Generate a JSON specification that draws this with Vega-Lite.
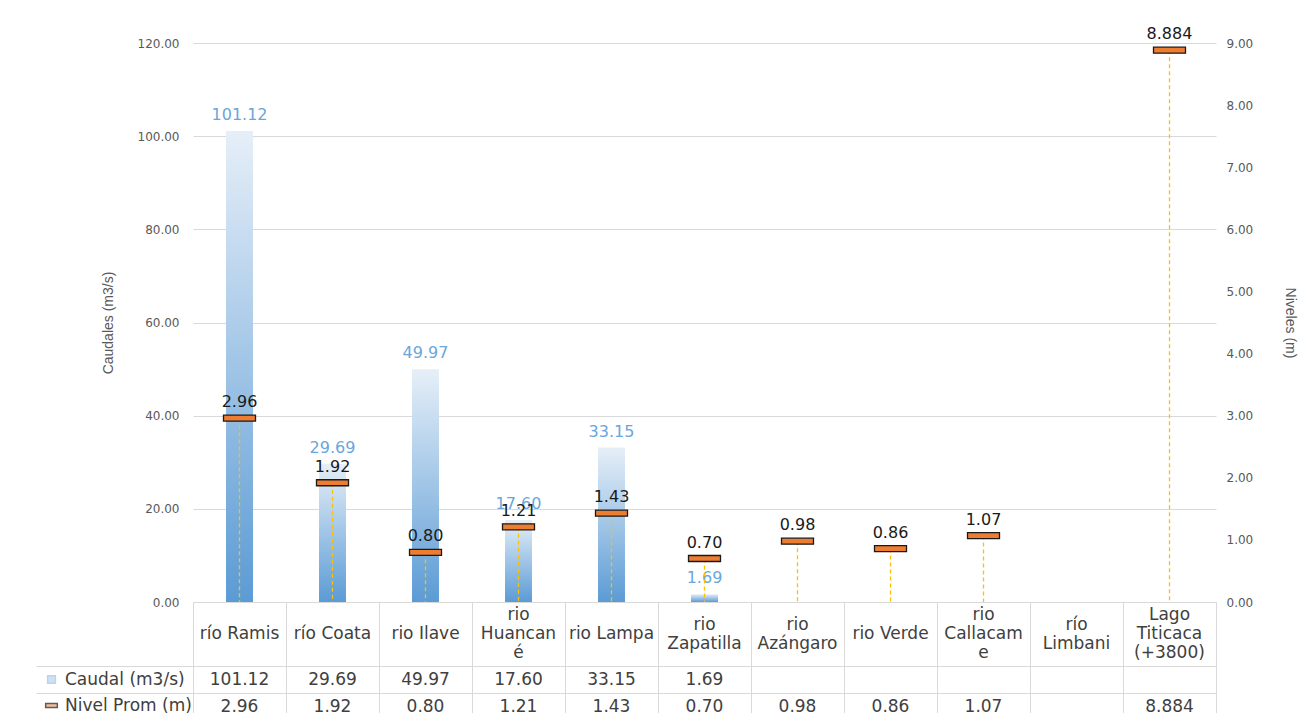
{
  "$schema": "https://vega.github.io/schema/vega-lite/v6.json",
  "padding": {"left": 35, "top": 26, "right": 5, "bottom": 0},
  "background": "white",
  "spacing": 0,
  "bounds": "flush",
  "config": {"view": {"stroke": null}, "font": "DejaVu Sans"},
  "datasets": {
    "rows": [
      {"cat": "río Ramis", "header": "río Ramis", "caudal": 101.12, "nivel": 2.96, "caudal_txt": "101.12", "nivel_txt": "2.96"},
      {"cat": "río Coata", "header": "río Coata", "caudal": 29.69, "nivel": 1.92, "caudal_txt": "29.69", "nivel_txt": "1.92"},
      {"cat": "rio Ilave", "header": "rio Ilave", "caudal": 49.97, "nivel": 0.80, "caudal_txt": "49.97", "nivel_txt": "0.80"},
      {"cat": "rio Huancané", "header": "rio|Huancan|é", "caudal": 17.60, "nivel": 1.21, "caudal_txt": "17.60", "nivel_txt": "1.21"},
      {"cat": "rio Lampa", "header": "rio Lampa", "caudal": 33.15, "nivel": 1.43, "caudal_txt": "33.15", "nivel_txt": "1.43"},
      {"cat": "rio Zapatilla", "header": "rio|Zapatilla", "caudal": 1.69, "nivel": 0.70, "caudal_txt": "1.69", "nivel_txt": "0.70"},
      {"cat": "rio Azángaro", "header": "rio|Azángaro", "caudal": null, "nivel": 0.98, "caudal_txt": null, "nivel_txt": "0.98"},
      {"cat": "rio Verde", "header": "rio Verde", "caudal": null, "nivel": 0.86, "caudal_txt": null, "nivel_txt": "0.86"},
      {"cat": "rio Callacame", "header": "rio|Callacam|e", "caudal": null, "nivel": 1.07, "caudal_txt": null, "nivel_txt": "1.07"},
      {"cat": "río Limbani", "header": "río|Limbani", "caudal": null, "nivel": null, "caudal_txt": null, "nivel_txt": null},
      {"cat": "Lago Titicaca (+3800)", "header": "Lago|Titicaca|(+3800)", "caudal": null, "nivel": 8.884, "caudal_txt": null, "nivel_txt": "8.884"}
    ]
  },
  "vconcat": [
    {
      "width": 1023,
      "height": 559,
      "data": {"name": "rows"},
      "encoding": {
        "x": {"field": "cat", "type": "nominal", "sort": null, "axis": null,
              "scale": {"type": "band", "paddingInner": 0.71, "paddingOuter": 0.355,
                        "domain": ["río Ramis", "río Coata", "rio Ilave", "rio Huancané", "rio Lampa", "rio Zapatilla", "rio Azángaro", "rio Verde", "rio Callacame", "río Limbani", "Lago Titicaca (+3800)"]}}
      },
      "layer": [
        {
          "encoding": {
            "y": {"field": "caudal", "type": "quantitative", "scale": {"domain": [0, 120]},
                  "axis": {"title": "Caudales (m3/s)", "format": ".2f", "values": [0, 20, 40, 60, 80, 100, 120],
                           "grid": true, "gridColor": "#d9d9d9", "domain": false, "ticks": false,
                           "labelPadding": 14, "labelFont": "DejaVu Sans", "labelFontSize": 12, "labelColor": "#595959",
                           "titleFont": "Liberation Sans", "titleFontSize": 14, "titleFontWeight": "normal",
                           "titleColor": "#595959", "titlePadding": 22}}
          },
          "layer": [
            {"mark": {"type": "bar",
                      "color": {"gradient": "linear", "x1": 0, "y1": 0, "x2": 0, "y2": 1,
                                "stops": [{"offset": 0, "color": "#e6eff8"}, {"offset": 1, "color": "#5b9bd5"}]}}},
            {"mark": {"type": "text", "dy": -16, "color": "#6aa6dc", "fontSize": 16, "font": "DejaVu Sans"},
             "encoding": {"text": {"field": "caudal", "type": "quantitative", "format": ".2f"}}}
          ]
        },
        {
          "encoding": {
            "y": {"field": "nivel", "type": "quantitative", "scale": {"domain": [0, 9]},
                  "axis": {"orient": "right", "title": "Niveles (m)", "format": ".2f", "values": [0, 1, 2, 3, 4, 5, 6, 7, 8, 9],
                           "grid": false, "domain": false, "ticks": false,
                           "labelPadding": 10, "labelFont": "DejaVu Sans", "labelFontSize": 12, "labelColor": "#595959",
                           "titleFont": "Liberation Sans", "titleFontSize": 14, "titleFontWeight": "normal",
                           "titleColor": "#595959", "titlePadding": 30}}
          },
          "layer": [
            {"mark": {"type": "rule", "color": "#ffc000", "strokeDash": [4, 3], "strokeWidth": 1.3},
             "encoding": {"y2": {"datum": 0}}},
            {"mark": {"type": "tick", "orient": "horizontal", "size": 32, "thickness": 6, "filled": true,
                      "fill": "#ed7d31", "stroke": "#1a1a1a", "strokeWidth": 1.3, "opacity": 1}},
            {"mark": {"type": "text", "dy": -16, "color": "#1a1a1a", "fontSize": 16, "font": "DejaVu Sans"},
             "encoding": {"text": {"field": "nivel_txt", "type": "nominal"}}}
          ]
        }
      ],
      "resolve": {"scale": {"y": "independent"}}
    },
    {
      "width": 1023,
      "height": 64,
      "data": {"name": "rows"},
      "view": {"stroke": "#d9d9d9"},
      "encoding": {
        "x": {"field": "cat", "type": "nominal", "sort": null,
              "scale": {"type": "band", "paddingInner": 0, "paddingOuter": 0,
                        "domain": ["río Ramis", "río Coata", "rio Ilave", "rio Huancané", "rio Lampa", "rio Zapatilla", "rio Azángaro", "rio Verde", "rio Callacame", "río Limbani", "Lago Titicaca (+3800)"]},
              "axis": {"labels": false, "ticks": false, "domain": false, "grid": true, "gridColor": "#d9d9d9",
                       "bandPosition": 0, "title": null}},
        "text": {"field": "header", "type": "nominal"}
      },
      "layer": [
        {"transform": [{"filter": "length(split(datum.header, '|')) == 1"}],
         "mark": {"type": "text", "lineBreak": "|", "fontSize": 17, "lineHeight": 19, "color": "#404040", "font": "DejaVu Sans", "dy": 0}},
        {"transform": [{"filter": "length(split(datum.header, '|')) == 2"}],
         "mark": {"type": "text", "lineBreak": "|", "fontSize": 17, "lineHeight": 19, "color": "#404040", "font": "DejaVu Sans", "dy": -9.5}},
        {"transform": [{"filter": "length(split(datum.header, '|')) == 3"}],
         "mark": {"type": "text", "lineBreak": "|", "fontSize": 17, "lineHeight": 19, "color": "#404040", "font": "DejaVu Sans", "dy": -19}}
      ]
    },
    {
      "width": 1023,
      "height": 54,
      "data": {"name": "rows"},
      "view": {"stroke": "#d9d9d9"},
      "transform": [{"fold": ["caudal_txt", "nivel_txt"], "as": ["serie", "txt"]}],
      "encoding": {
        "x": {"field": "cat", "type": "nominal", "sort": null,
              "scale": {"type": "band", "paddingInner": 0, "paddingOuter": 0,
                        "domain": ["río Ramis", "río Coata", "rio Ilave", "rio Huancané", "rio Lampa", "rio Zapatilla", "rio Azángaro", "rio Verde", "rio Callacame", "río Limbani", "Lago Titicaca (+3800)"]},
              "axis": {"labels": false, "ticks": false, "domain": false, "grid": true, "gridColor": "#d9d9d9",
                       "bandPosition": 0, "title": null}},
        "y": {"field": "serie", "type": "nominal", "sort": ["caudal_txt", "nivel_txt"],
              "scale": {"type": "band", "paddingInner": 0, "paddingOuter": 0, "domain": ["caudal_txt", "nivel_txt"]},
              "axis": {"labels": false, "domain": false, "ticks": true, "tickSize": 157, "tickColor": "#d9d9d9",
                       "bandPosition": 0, "grid": true, "gridColor": "#d9d9d9", "title": null}}
      },
      "layer": [
        {"transform": [{"filter": "isValid(datum.txt)"}],
         "mark": {"type": "text", "fontSize": 17, "color": "#404040", "font": "DejaVu Sans"},
         "encoding": {"text": {"field": "txt", "type": "nominal"}}},
        {"transform": [{"filter": "datum.txt == 'none'"}],
         "mark": {"type": "point", "filled": true, "strokeWidth": 1.2},
         "encoding": {
           "fill": {"field": "serie", "type": "nominal",
                    "scale": {"domain": ["Caudal (m3/s)", "Nivel Prom (m)"], "range": ["#9dc3e6", "#ed7d31"]},
                    "legend": {"title": null, "orient": "none", "legendX": -150, "legendY": 628, "padding": 0,
                               "labelFont": "DejaVu Sans", "labelFontSize": 17, "labelColor": "#404040",
                               "rowPadding": 8, "symbolSize": 60, "labelOffset": 5}},
           "shape": {"field": "serie", "type": "nominal",
                     "scale": {"domain": ["Caudal (m3/s)", "Nivel Prom (m)"], "range": ["square", "M-1.5,-0.5H1.5V0.5H-1.5Z"]}},
           "stroke": {"field": "serie", "type": "nominal",
                      "scale": {"domain": ["Caudal (m3/s)", "Nivel Prom (m)"], "range": ["#9dc3e6", "#1a1a1a"]}}
         }}
      ]
    }
  ]
}
